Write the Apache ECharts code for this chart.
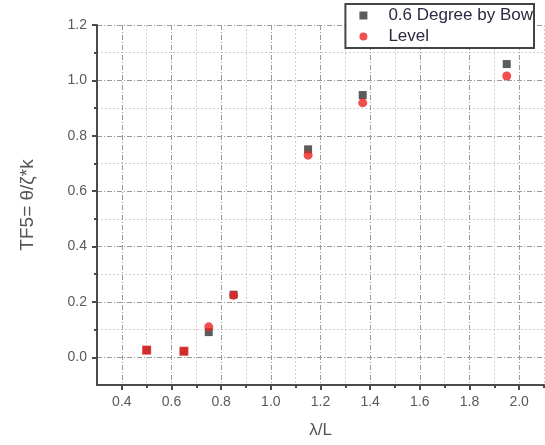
<!DOCTYPE html>
<html><head><meta charset="utf-8">
<script src="https://cdn.jsdelivr.net/npm/echarts@6/dist/echarts.min.js"></script>
<style>html,body{margin:0;padding:0;background:#fff}#c{width:545px;height:445px}</style>
</head><body><div id="c"></div>
<script>
const xValues = [0.5, 0.65, 0.75, 0.85, 1.15, 1.37, 1.95];
const bowValues = [0.026, 0.022, 0.091, 0.226, 0.751, 0.947, 1.059];
const levelValues = [0.026, 0.022, 0.110, 0.224, 0.730, 0.919, 1.016];
const xMajorTicks = [0.4, 0.6, 0.8, 1.0, 1.2, 1.4, 1.6, 1.8, 2.0];
const xMinorTicks = [0.5, 0.7, 0.9, 1.1, 1.3, 1.5, 1.7, 1.9, 2.1];
const yMajorTicks = [0.0, 0.2, 0.4, 0.6, 0.8, 1.0, 1.2];
const yMinorTicks = [0.1, 0.3, 0.5, 0.7, 0.9, 1.1];
const seriesNames = ['0.6 Degree by Bow', 'Level'];

const FONT = 'Liberation Sans, Arial, sans-serif';
const chart = echarts.init(document.getElementById('c'));
const majorGrid = { show: true, lineStyle: { color: '#9a9a9a', width: 1, type: [5, 2, 1, 2] } };
const minorGrid = { show: true, lineStyle: { color: '#d0d0d0', width: 1, type: [2, 2] } };
const axisLineStyle = { show: true, onZero: false, lineStyle: { color: '#4a4a4a', width: 2 } };
const tickStyle = { color: '#4a4a4a', width: 2 };

chart.setOption({
  animation: false,
  grid: { left: 97, top: 25, right: 1, bottom: 60, containLabel: false },
  legend: {
    orient: 'vertical', right: 11, top: 4,
    borderColor: '#444', borderWidth: 2, backgroundColor: '#fff',
    padding: [3, 1, 3, 14], itemGap: 4, itemWidth: 8, itemHeight: 8,
    textStyle: { fontFamily: FONT, fontSize: 17, color: '#2a2a40', padding: [0, 0, 0, 16] },
    data: [{ name: seriesNames[0], icon: 'rect' }, { name: seriesNames[1], icon: 'circle' }]
  },
  xAxis: [{
    type: 'value', min: 0.3, max: 2.1,
    name: 'λ/L', nameLocation: 'middle', nameGap: 37,
    nameTextStyle: { fontFamily: FONT, fontSize: 17, color: '#555' },
    axisLine: axisLineStyle,
    axisTick: { show: true, customValues: xMajorTicks, length: 5, lineStyle: tickStyle },
    axisLabel: { customValues: xMajorTicks, fontFamily: FONT, fontSize: 14, color: '#5a5a5a', margin: 10,
      formatter: v => v.toFixed(1) },
    splitLine: majorGrid
  }, {
    type: 'value', min: 0.3, max: 2.1, position: 'bottom',
    axisLine: { show: false, onZero: false },
    axisTick: { show: true, customValues: xMinorTicks, length: 3, lineStyle: tickStyle },
    axisLabel: { show: false },
    splitLine: minorGrid
  }],
  yAxis: [{
    type: 'value', min: -0.1, max: 1.2,
    name: 'TF5= θ/ζ*k', nameLocation: 'middle', nameGap: 60, nameRotate: 90,
    nameTextStyle: { fontFamily: FONT, fontSize: 19, color: '#555' },
    axisLine: axisLineStyle,
    axisTick: { show: true, customValues: yMajorTicks, length: 5, lineStyle: tickStyle },
    axisLabel: { customValues: yMajorTicks, fontFamily: FONT, fontSize: 14, color: '#5a5a5a', margin: 10,
      formatter: v => v.toFixed(1) },
    splitLine: majorGrid
  }, {
    type: 'value', min: -0.1, max: 1.2, position: 'left',
    axisLine: { show: false, onZero: false },
    axisTick: { show: true, customValues: yMinorTicks, length: 3, lineStyle: tickStyle },
    axisLabel: { show: false },
    splitLine: minorGrid
  }],
  series: [{
    name: seriesNames[0], type: 'scatter', symbol: 'rect', symbolSize: 8,
    itemStyle: { color: '#333333' },
    data: xValues.map((x, i) => [x, bowValues[i]])
  }, {
    name: seriesNames[1], type: 'scatter', symbolSize: 9,
    symbol: (val, p) => (Math.abs(levelValues[p.dataIndex] - bowValues[p.dataIndex]) < 1e-9 ? 'rect' : 'circle'),
    itemStyle: { color: '#ee2222' },
    data: xValues.map((x, i) => [x, levelValues[i]])
  }]
});
</script></body></html>
